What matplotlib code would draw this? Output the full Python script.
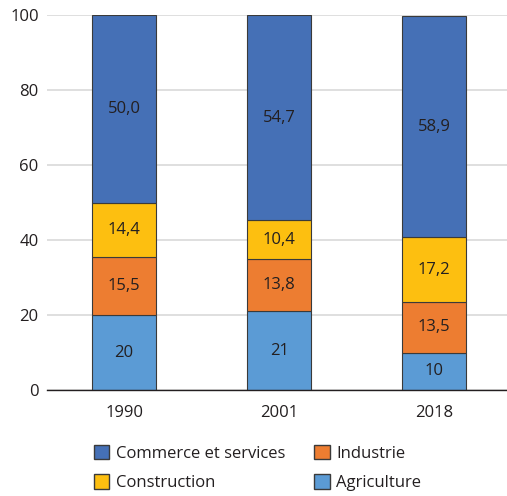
import numpy as np
import matplotlib.pyplot as plt
from matplotlib.patches import Patch

plt.rcParams['font.family'] = ['Open Sans', 'DejaVu Sans']

# Emploi par secteur (%)
years = ['1990', '2001', '2018']
agriculture = np.array([20, 21, 10])
industrie = np.array([15.5, 13.8, 13.5])
construction = np.array([14.4, 10.4, 17.2])
commerce = np.array([50.0, 54.7, 58.9])

agri_labels = ['20', '21', '10']

c_commerce = '#4570b6'
c_industrie = '#ed7d31'
c_construction = '#fdbf10'
c_agriculture = '#5b9bd5'
edge = '#3a3a3a'
text_col = '#231f20'

fig = plt.figure(figsize=(5.07, 4.96), dpi=100)
ax = fig.add_axes([0.0927, 0.2137, 0.9073, 0.7561])

x = np.arange(len(years))
w = 0.41
bottoms = np.zeros(len(years))
series = [
    (agriculture, c_agriculture, agri_labels),
    (industrie, c_industrie, None),
    (construction, c_construction, None),
    (commerce, c_commerce, None),
]
for vals, col, labs in series:
    bars = ax.bar(x, vals, w, bottom=bottoms, color=col, edgecolor=edge,
                  linewidth=0.8, zorder=3)
    if labs is None:
        labs = [f'{v:.1f}'.replace('.', ',') for v in vals]
    ax.bar_label(bars, labels=labs, label_type='center', fontsize=12,
                 color=text_col)
    bottoms += vals

ax.set_xlim(-0.497, 2.47)
ax.set_ylim(0, 100)
ax.set_yticks(np.arange(0, 101, 20))
ax.set_xticks(x)
ax.set_xticklabels(years)
ax.tick_params(axis='both', length=0, labelsize=12, colors=text_col)
ax.tick_params(axis='x', pad=11)
ax.tick_params(axis='y', pad=6)
ax.yaxis.grid(True, color='#d9d9d9', linewidth=1.2, zorder=0)
for s in ['top', 'right', 'left']:
    ax.spines[s].set_visible(False)
ax.spines['bottom'].set_color('#231f20')
ax.spines['bottom'].set_linewidth(1.0)
ax.spines['bottom'].set_zorder(4)

# Legend: two columns, filled column by column
handles = [
    Patch(facecolor=c_commerce, edgecolor=edge, label='Commerce et services'),
    Patch(facecolor=c_construction, edgecolor=edge, label='Construction'),
    Patch(facecolor=c_industrie, edgecolor=edge, label='Industrie'),
    Patch(facecolor=c_agriculture, edgecolor=edge, label='Agriculture'),
]
fig.legend(handles=handles, ncol=2, loc='upper left',
           bbox_to_anchor=(0.168, 0.12), frameon=False, fontsize=12,
           handlelength=0.95, handleheight=0.95, handletextpad=0.4,
           columnspacing=1.7, labelspacing=0.75, borderpad=0,
           labelcolor=text_col)

fig.savefig('out.png', dpi=100)
